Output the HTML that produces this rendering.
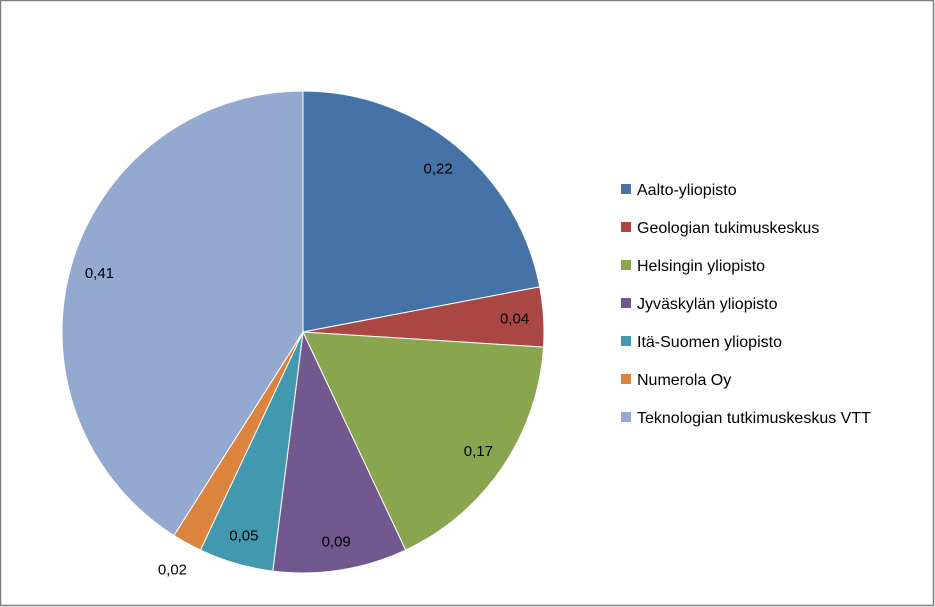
<!DOCTYPE html>
<html><head><meta charset="utf-8"><style>
html,body{margin:0;padding:0;background:#fff}
svg{display:block}
text{font-family:"Liberation Sans",sans-serif}
</style></head><body>
<svg id="chart" width="935" height="607" viewBox="0 0 935 607">
<rect x="0.5" y="0.5" width="933" height="605" fill="#fff" stroke="#7f7f7f" stroke-width="1.5"/>
<g id="slices"></g><g id="labels"></g><g id="legend"></g>
</svg>
<script>
const categories=["Aalto-yliopisto","Geologian tukimuskeskus","Helsingin yliopisto","Jyväskylän yliopisto","Itä-Suomen yliopisto","Numerola Oy","Teknologian tutkimuskeskus VTT"];
const values=[0.22,0.04,0.17,0.09,0.05,0.02,0.41];
const valueLabels=["0,22","0,04","0,17","0,09","0,05","0,02","0,41"];
const colors=["#4572A7","#AA4643","#89A54E","#71588F","#4198AF","#DB843D","#93A9CF"];
const NS="http://www.w3.org/2000/svg";
const cx=303,cy=332,r=241;
const total=values.reduce((a,b)=>a+b,0);
function pt(a,rr){return [cx+rr*Math.sin(a),cy-rr*Math.cos(a)];}
const gS=document.getElementById('slices'),gL=document.getElementById('labels'),gG=document.getElementById('legend');
let cum=0;
values.forEach((v,i)=>{
  const a0=cum/total*2*Math.PI; cum+=v; const a1=cum/total*2*Math.PI;
  const p0=pt(a0,r),p1=pt(a1,r);
  const p=document.createElementNS(NS,'path');
  p.setAttribute('d',`M${cx},${cy}L${p0[0]},${p0[1]}A${r},${r} 0 ${a1-a0>Math.PI?1:0} 1 ${p1[0]},${p1[1]}Z`);
  p.setAttribute('fill',colors[i]);p.setAttribute('stroke','#fff');p.setAttribute('stroke-width','1');
  
  
  gS.appendChild(p);
  const am=(a0+a1)/2; const lp=pt(am, v/total<0.03? r+30 : 212);
  const t=document.createElementNS(NS,'text');
  t.setAttribute('x',lp[0]);t.setAttribute('y',lp[1]+5);t.setAttribute('text-anchor','middle');t.setAttribute('font-size','15');
  t.textContent=valueLabels[i];
  
  
  gL.appendChild(t);
  const y=189+i*38;
  const s=document.createElementNS(NS,'rect');
  s.setAttribute('x',621);s.setAttribute('y',y-5);s.setAttribute('width',10);s.setAttribute('height',10);s.setAttribute('fill',colors[i]);
  
  
  gG.appendChild(s);
  const lt=document.createElementNS(NS,'text');
  lt.setAttribute('x',637);lt.setAttribute('y',y+6);lt.setAttribute('font-size','16');
  lt.textContent=categories[i];
  
  
  gG.appendChild(lt);
});
</script>
</body></html>
